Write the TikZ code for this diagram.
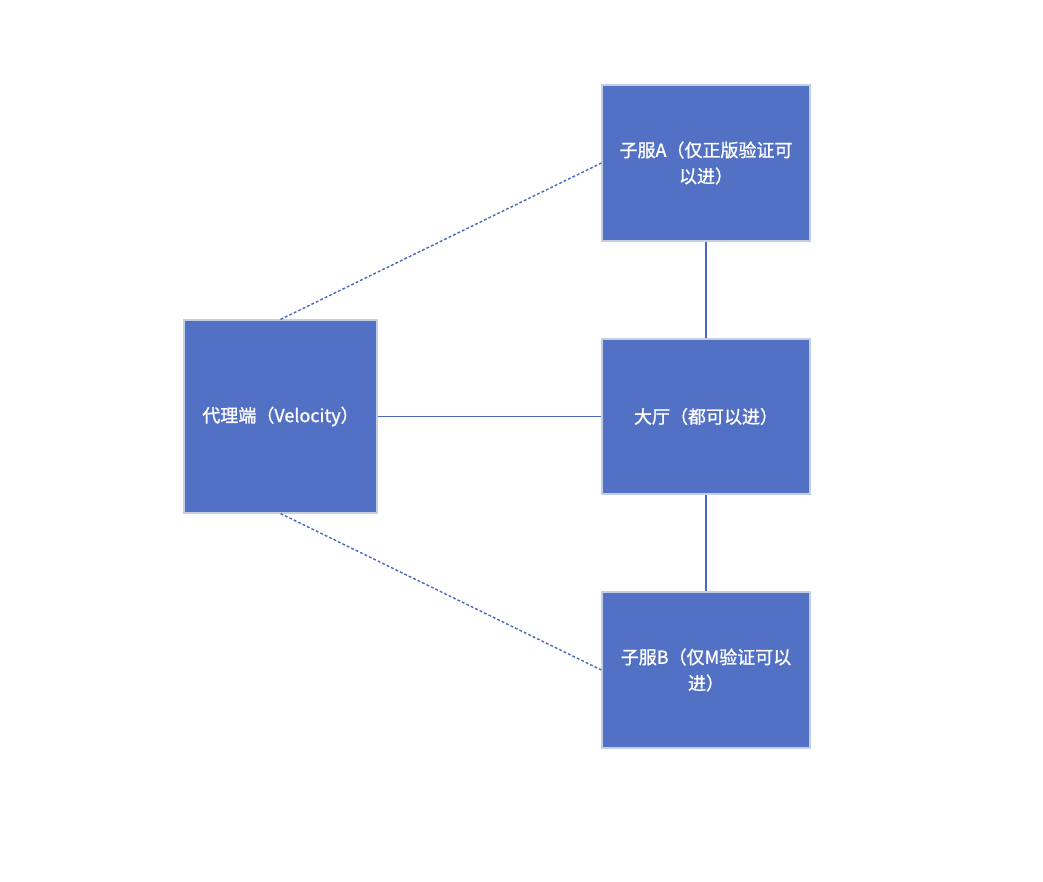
\documentclass[tikz,border=0pt]{standalone}
\usepackage{fontspec}
\setmainfont{Noto Sans CJK SC}
\newfontfamily\boxfont[FakeBold=1.2]{Noto Sans CJK SC}
\usetikzlibrary{positioning}
\definecolor{boxblue}{RGB}{82,112,196}
\definecolor{boxedge}{RGB}{198,206,226}
\definecolor{linkblue}{RGB}{72,104,190}
\tikzset{
  srvbox/.style={draw=boxedge,line width=0.8pt,fill=boxblue,text=white,
    align=center,font=\boxfont\fontsize{12.8}{18.5}\selectfont,inner sep=0pt},
  link/.style={draw=linkblue,line width=1pt},
  weaklink/.style={link,dash pattern=on 2pt off 1.5pt}
}

\begin{document}
\begin{tikzpicture}[x=0.025cm,y=-0.025cm]
  \useasboundingbox (0,0) rectangle (1043,881);
  \node[srvbox,minimum width=193*0.025cm,minimum height=193*0.025cm] (proxy) at (280.5,416.5) {代理端（Velocity）};
  \node[srvbox,minimum width=208*0.025cm,minimum height=156*0.025cm] (subA) at (706,163) {子服A（仅正版验证可\\以进）};
  \node[srvbox,minimum width=208*0.025cm,minimum height=155*0.025cm] (hall) at (706,416.5) {大厅（都可以进）};
  \node[srvbox,minimum width=208*0.025cm,minimum height=156*0.025cm] (subB) at (706,670) {子服B（仅M验证可以\\进）};
  % links
  \draw[weaklink] (proxy.north) -- (subA.west);
  \draw[weaklink] (proxy.south) -- (subB.west);
  \draw[link] (proxy.east) -- (hall.west);
  \draw[link] (hall.north) -- (subA.south);
  \draw[link] (hall.south) -- (subB.north);
\end{tikzpicture}
\end{document}
